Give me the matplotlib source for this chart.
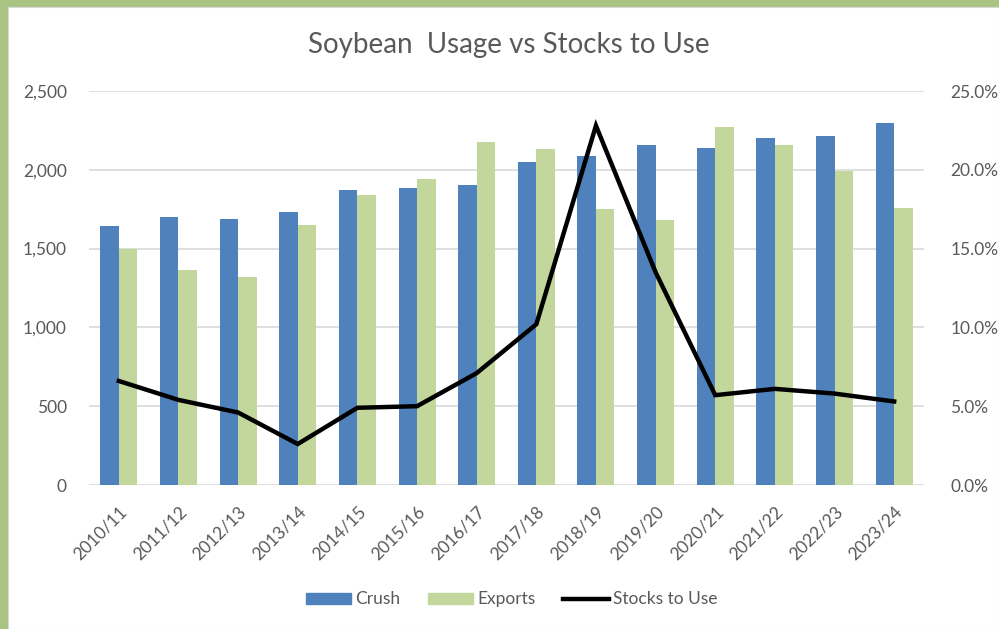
import matplotlib
matplotlib.use("Agg")
import matplotlib.pyplot as plt
import numpy as np
from matplotlib.patches import Rectangle
from matplotlib.lines import Line2D
from matplotlib.ticker import FuncFormatter

years = ["2010/11", "2011/12", "2012/13", "2013/14", "2014/15", "2015/16", "2016/17",
         "2017/18", "2018/19", "2019/20", "2020/21", "2021/22", "2022/23", "2023/24"]
crush = [1645, 1700, 1685, 1735, 1873, 1886, 1901, 2050, 2085, 2160, 2141, 2204, 2215, 2300]
exports = [1500, 1364, 1322, 1648, 1843, 1940, 2174, 2132, 1750, 1680, 2270, 2160, 1995, 1760]
stocks_to_use = [6.6, 5.4, 4.6, 2.6, 4.9, 5.0, 7.1, 10.2, 22.8, 13.5, 5.7, 6.1, 5.8, 5.3]

text_color = "#595959"
plt.rcParams["font.family"] = ["Lato", "DejaVu Sans"]

fig = plt.figure(figsize=(9.99, 6.29), dpi=100, facecolor="#a9c383")
bg = fig.add_axes([8 / 999, 0, 1 - 8 / 999, 1 - 7 / 629], zorder=-10)
bg.set_facecolor("white")
bg.set_xticks([])
bg.set_yticks([])
for s in bg.spines.values():
    s.set_color("#d9d9d9")

ax = fig.add_axes([89 / 999, 1 - 485 / 629, (924 - 89) / 999, (485 - 91) / 629])
ax.set_facecolor("none")
x = np.arange(len(years))
w = 0.31
ax.bar(x - w / 2, crush, w, color="#4f81bd", label="Crush", zorder=2)
ax.bar(x + w / 2, exports, w, color="#c3d69b", label="Exports", zorder=2)
ax.set_xlim(-0.5, len(years) - 0.5)
ax.set_ylim(0, 2500)
ax.set_yticks(range(0, 2501, 500))
ax.yaxis.set_major_formatter(FuncFormatter(lambda v, p: f"{v:,.0f}"))
ax.grid(axis="y", color="#d9d9d9", lw=1.2, zorder=0)
for s in ax.spines.values():
    s.set_visible(False)
ax.tick_params(axis="both", length=0, colors=text_color, labelsize=12.5)
ax.tick_params(axis="y", pad=16)
ax.set_xticks(x)
ax.set_xticklabels(years, rotation=45, ha="right", rotation_mode="anchor")
ax.tick_params(axis="x", pad=13)

ax2 = ax.twinx()
ax2.plot(x, stocks_to_use, color="black", lw=3.2, solid_joinstyle="miter", zorder=3)
ax2.set_ylim(0, 25)
ax2.set_yticks(np.arange(0, 25.1, 5))
ax2.yaxis.set_major_formatter(FuncFormatter(lambda v, p: f"{v:.1f}%"))
for s in ax2.spines.values():
    s.set_visible(False)
ax2.tick_params(axis="y", length=0, colors=text_color, labelsize=12.5, pad=19)

fig.text(0.509, 0.928, "Soybean  Usage vs Stocks to Use", ha="center", va="center",
         fontsize=20, color=text_color)

handles = [Rectangle((0, 0), 1, 1, color="#4f81bd"),
           Rectangle((0, 0), 1, 1, color="#c3d69b"),
           Line2D([0], [0], color="black", lw=3.2)]
fig.legend(handles, ["Crush", "Exports", "Stocks to Use"], loc="center",
           bbox_to_anchor=(0.512, 0.047), ncol=3, frameon=False, fontsize=12.5,
           labelcolor=text_color, handlelength=2.6, handleheight=0.6,
           handletextpad=0.25, columnspacing=1.6)

fig.savefig("out.png", dpi=100, facecolor=fig.get_facecolor())
